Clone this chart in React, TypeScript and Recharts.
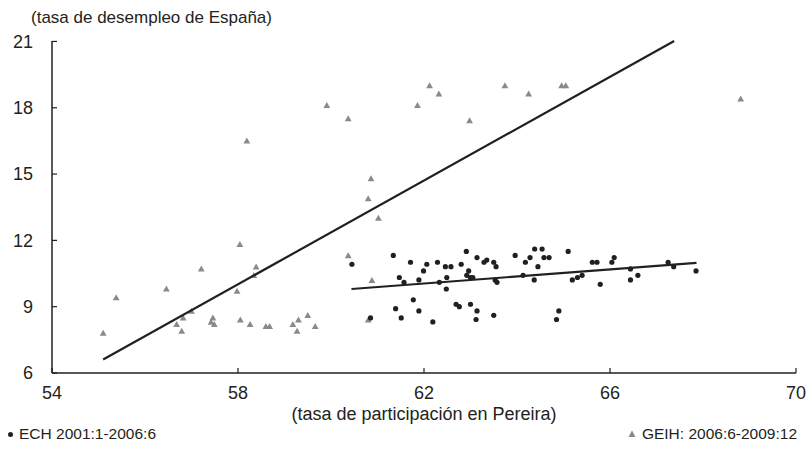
import { ScatterChart, Scatter, XAxis, YAxis } from "recharts";

// ECH 2001:1-2006:6 (participación, desempleo)
const echPart = [
  60.45, 60.85, 61.34, 61.39, 61.47, 61.51, 61.57, 61.71, 61.77, 61.89, 61.89,
  61.99, 62.06, 62.19, 62.29, 62.33, 62.46, 62.49, 62.48, 62.58, 62.69, 62.76,
  62.8, 62.91, 62.96, 62.92, 63.0, 63.05, 63.0, 63.14, 63.14, 63.12, 63.29,
  63.35, 63.5, 63.55, 63.53, 63.57, 63.5, 63.96, 64.13, 64.18, 64.28, 64.38,
  64.54, 64.45, 64.37, 64.58, 64.69, 65.1, 64.9, 64.85, 65.19, 65.3, 65.4,
  65.62, 65.72, 65.79, 66.04, 66.09, 66.44, 66.44, 66.6, 67.25, 67.37, 67.85,
];
const echDesemp = [
  10.92, 8.49, 11.32, 8.91, 10.32, 8.49, 10.1, 11.01, 9.31, 10.21, 8.81,
  10.62, 10.92, 8.31, 11.01, 10.1, 10.81, 10.32, 9.8, 10.81, 9.11, 9.0,
  10.92, 11.5, 10.62, 10.42, 10.32, 10.32, 9.11, 11.22, 8.81, 8.42, 11.01,
  11.11, 11.01, 10.81, 10.21, 10.1, 8.61, 11.32, 10.42, 11.01, 11.22, 11.61,
  11.61, 10.81, 10.21, 11.22, 11.22, 11.5, 8.81, 8.42, 10.21, 10.32, 10.42,
  11.01, 11.01, 10.01, 11.01, 11.22, 10.71, 10.21, 10.42, 11.01, 10.81, 10.62,
];

// GEIH 2006:6-2009:12
const geihPart = [
  55.1, 55.38, 56.46, 56.68, 56.79, 56.82, 57.0, 57.21, 57.42, 57.46, 57.49,
  57.98, 58.04, 58.05, 58.19, 58.26, 58.34, 58.39, 58.6, 58.68, 59.18, 59.27,
  59.3, 59.5, 59.66, 59.91, 60.37, 60.37, 60.8, 60.8, 60.86, 60.88, 61.02,
  61.86, 62.12, 62.32, 62.98, 63.74, 64.25, 64.96, 65.05, 68.81,
];
const geihDesemp = [
  7.8, 9.4, 9.8, 8.19, 7.89, 8.49, 8.79, 10.71, 8.3, 8.49, 8.19,
  9.7, 11.81, 8.4, 16.5, 8.19, 10.41, 10.8, 8.1, 8.1, 8.19, 7.89,
  8.4, 8.6, 8.1, 18.1, 17.5, 11.31, 13.88, 8.4, 14.79, 10.19, 13.0,
  18.1, 19.0, 18.62, 17.41, 19.0, 18.62, 19.0, 19.0, 18.4,
];

// tendencias lineales (extremos)
const echTrendPart = [60.44, 67.86];
const echTrendDesemp = [9.8, 10.98];
const geihTrendPart = [55.1, 67.38];
const geihTrendDesemp = [6.61, 21.02];

const xTicks = [54, 58, 62, 66, 70];
const yTicks = [6, 9, 12, 15, 18, 21];

const FONT = "'Liberation Sans', Arial, sans-serif";
const INK = "#231f20";
const GREY = "#8a8a8a";

const zip = (xs: number[], ys: number[]) => xs.map((x, i) => ({ x, y: ys[i] }));

const ech = zip(echPart, echDesemp);
const geih = zip(geihPart, geihDesemp);
const echTrend = zip(echTrendPart, echTrendDesemp);
const geihTrend = zip(geihTrendPart, geihTrendDesemp);

const Dot = (p: any) => <circle cx={p.cx} cy={p.cy} r={2.6} fill={INK} />;
const Tri = (p: any) => (
  <path
    d={`M${p.cx},${p.cy - 3.5} L${p.cx + 3.4},${p.cy + 2.5} L${p.cx - 3.4},${p.cy + 2.5} Z`}
    fill={GREY}
  />
);
const Nothing = () => <g />;

const tickStyle = { fontSize: 18, fill: INK, fontFamily: FONT };

export default function App() {
  return (
    <div style={{ position: "relative", width: 807, height: 455, fontFamily: FONT, color: INK }}>
      <style>{`body{margin:0}`}</style>
      <ScatterChart
        width={807}
        height={455}
        margin={{ top: 41, right: 11, bottom: 22, left: 0 }}
      >
        <XAxis
          type="number"
          dataKey="x"
          domain={[54, 70]}
          ticks={xTicks}
          interval={0}
          height={60}
          tick={tickStyle}
          tickSize={-5}
          tickMargin={18}
          axisLine={{ stroke: INK, strokeWidth: 1.5 }}
          tickLine={{ stroke: INK, strokeWidth: 1.2 }}
          label={{
            content: (props: any) => {
              const vb = props.viewBox || { x: 52, y: 373, width: 744 };
              return (
                <text
                  x={vb.x + vb.width / 2}
                  y={vb.y + 47}
                  textAnchor="middle"
                  fontSize={18}
                  fill={INK}
                  fontFamily={FONT}
                >
                  (tasa de participación en Pereira)
                </text>
              );
            },
          }}
        />
        <YAxis
          type="number"
          dataKey="y"
          domain={[6, 21]}
          ticks={yTicks}
          interval={0}
          width={52}
          tick={tickStyle}
          tickSize={-5}
          tickMargin={24}
          axisLine={{ stroke: INK, strokeWidth: 1.5 }}
          tickLine={{ stroke: INK, strokeWidth: 1.2 }}
          label={{
            content: () => (
              <text x={31} y={23} fontSize={17} fill={INK} fontFamily={FONT}>
                (tasa de desempleo de España)
              </text>
            ),
          }}
        />
        <Scatter data={geih} shape={Tri} isAnimationActive={false} />
        <Scatter data={ech} shape={Dot} isAnimationActive={false} />
        <Scatter
          data={geihTrend}
          line={{ stroke: INK, strokeWidth: 2.2 }}
          shape={Nothing}
          legendType="none"
          isAnimationActive={false}
        />
        <Scatter
          data={echTrend}
          line={{ stroke: INK, strokeWidth: 2.2 }}
          shape={Nothing}
          legendType="none"
          isAnimationActive={false}
        />
      </ScatterChart>
      <div
        style={{
          position: "absolute",
          left: 8,
          top: 425,
          fontSize: 15.5,
          lineHeight: "18px",
          display: "flex",
          alignItems: "center",
        }}
      >
        <span style={{ display: "inline-block", width: 5, height: 5, borderRadius: 3, background: INK, marginRight: 6 }} />
        ECH 2001:1-2006:6
      </div>
      <div
        style={{
          position: "absolute",
          right: 10,
          top: 425,
          fontSize: 15.5,
          lineHeight: "18px",
          display: "flex",
          alignItems: "center",
        }}
      >
        <svg width={8} height={8} style={{ marginRight: 6 }}>
          <path d="M4,0.5 L7.5,7 L0.5,7 Z" fill={GREY} />
        </svg>
        GEIH: 2006:6-2009:12
      </div>
    </div>
  );
}
